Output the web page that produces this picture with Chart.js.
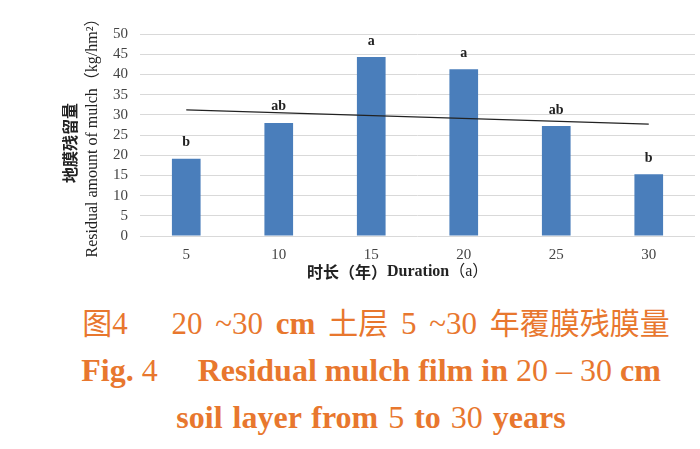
<!DOCTYPE html>
<html>
<head>
<meta charset="utf-8">
<script src="https://cdn.jsdelivr.net/npm/chart.js@4"></script>
<style>
	body { margin: 0; background: #fff; }
	#wrap { position: relative; width: 700px; height: 449px; }
	#box { position: absolute; left: 0; top: 0; width: 700px; height: 290px; }
	.cap {
		position: absolute;
		left: 0;
		text-align: center;
		color: #e8772e;
		font-family: "Liberation Serif", "Noto Sans CJK SC", serif;
		font-size: 32px;
		white-space: pre;
		line-height: 1;
	}
	.cap b { font-weight: bold; }
	.cjk { font-family: "Noto Sans CJK SC", sans-serif; font-size: 30px; }
</style>
</head>
<body>
<div id="wrap">
	<div class="cap" style="top:306px; width:752px; font-size:31px; word-spacing:5px"><span class="cjk">图</span>4　 20 ~30 <b>cm</b> <span class="cjk">土层</span> 5 ~30 <span class="cjk">年覆膜残膜量</span></div>
	<div class="cap" style="top:354px; width:742px"><b>Fig.</b> 4　 <b>Residual mulch film in</b> 20 – 30 <b>cm</b></div>
	<div class="cap" style="top:401px; width:742px; word-spacing:2px"><b>soil layer from</b> 5 <b>to</b> 30 <b>years</b></div>
	<div id="box"><canvas id="chart"></canvas></div>
</div>
<script>
const years = ["5", "10", "15", "20", "25", "30"];
const residual = [19.1, 28.0, 44.3, 41.3, 27.2, 15.3];
const trend = [31.2, null, null, null, null, 27.7];
const letters = ["b", "ab", "a", "a", "ab", "b"];

const serif = "'Liberation Serif', 'Noto Sans CJK SC', serif";

const extras = {
	id: "extras",
	afterDatasetsDraw(chart) {
		const ctx = chart.ctx;
		const bars = chart.getDatasetMeta(0).data;
		ctx.save();
		ctx.fillStyle = "#222";
		ctx.font = "bold 14px " + serif;
		ctx.textAlign = "center";
		ctx.textBaseline = "bottom";
		bars.forEach((bar, i) => {
			ctx.fillText(letters[i], bar.x, bar.y - 9);
		});
		ctx.restore();
	},
	afterDraw(chart) {
		const ctx = chart.ctx;
		const area = chart.chartArea;
		ctx.save();
		// y axis title, two lines
		ctx.translate(70, (area.top + area.bottom) / 2 + 8);
		ctx.rotate(-Math.PI / 2);
		ctx.textAlign = "center";
		ctx.textBaseline = "middle";
		ctx.fillStyle = "#222";
		ctx.font = "bold 16px 'Noto Sans CJK SC'";
		ctx.fillText("地膜残留量", 0, 0);
		ctx.font = "16px " + serif;
		ctx.fillText("Residual amount of mulch（kg/hm²）", 9, 23);
		ctx.restore();

		// x axis title
		ctx.save();
		ctx.fillStyle = "#222";
		ctx.textBaseline = "middle";
		let x = 307;
		const y = 272;
		const parts = [
			["bold 16px 'Noto Sans CJK SC'", "时长（年）"],
			["bold 16px " + serif, "Duration"],
			["16px " + serif, "（a）"],
		];
		parts.forEach(p => {
			ctx.font = p[0];
			ctx.fillText(p[1], x, y);
			x += ctx.measureText(p[1]).width;
		});
		ctx.restore();
	},
};

new Chart(document.getElementById("chart"), {
	type: "bar",
	data: {
		labels: years,
		datasets: [
			{
				type: "bar",
				data: residual,
				backgroundColor: "#4a7ebb",
				barPercentage: 0.31,
				categoryPercentage: 1,
				order: 2,
			},
			{
				type: "line",
				data: trend,
				spanGaps: true,
				borderColor: "#222",
				borderWidth: 1.3,
				pointRadius: 0,
				order: 1,
			},
		],
	},
	options: {
		responsive: true,
		maintainAspectRatio: false,
		animation: false,
		layout: { padding: { top: 34, right: 5, left: 0, bottom: 0 } },
		plugins: {
			legend: { display: false },
			tooltip: { enabled: false },
		},
		scales: {
			x: {
				grid: { display: false },
				border: { display: false },
				ticks: {
					padding: 2,
					color: "#444",
					font: { family: serif, size: 15 },
				},
				afterFit: s => { s.height = 54; },
			},
			y: {
				min: 0,
				max: 50,
				grid: { color: "#d9d9d9", drawTicks: false },
				border: { display: false },
				ticks: {
					stepSize: 5,
					autoSkip: false,
					padding: 12,
					color: "#444",
					font: { family: serif, size: 15 },
				},
				afterFit: s => { s.width = 140; },
			},
		},
	},
	plugins: [extras],
});
</script>
</body>
</html>
